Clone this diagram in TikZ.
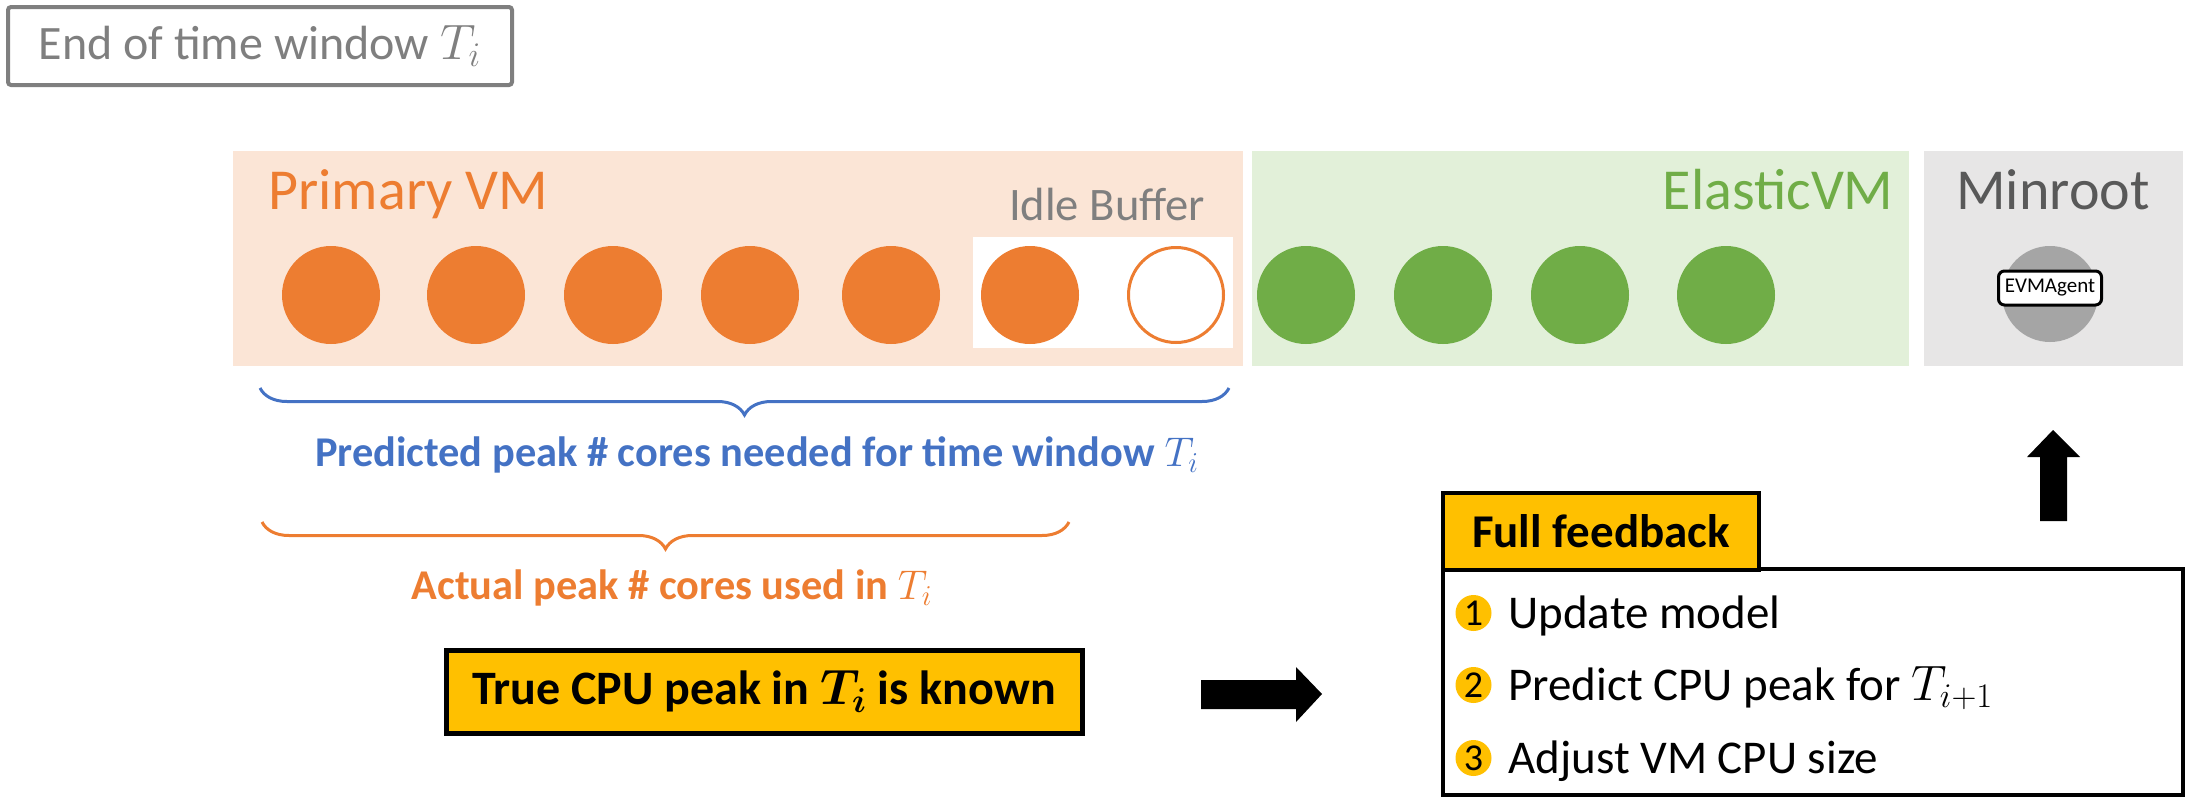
\documentclass[tikz,border=0pt]{standalone}
\usepackage{amsmath}
\usepackage{fontspec}
\setmainfont{Carlito}
\usetikzlibrary{decorations.pathreplacing}
\definecolor{vmorange}{HTML}{ED7D31}
\definecolor{lorange}{HTML}{FBE5D6}
\definecolor{vmgreen}{HTML}{70AD47}
\definecolor{lgreen}{HTML}{E2F0D9}
\definecolor{lgray}{HTML}{E7E6E6}
\definecolor{cgray}{HTML}{A5A5A5}
\definecolor{tgray}{HTML}{7F7F7F}
\definecolor{dgray}{HTML}{595959}
\definecolor{vblue}{HTML}{4472C4}
\definecolor{vyellow}{HTML}{FFC000}
\begin{document}
\begin{tikzpicture}[x=0.5pt,y=-0.5pt,
  core/.style={circle, inner sep=0, minimum size=49pt, fill=vmorange},
  gcore/.style={circle, inner sep=0, minimum size=49pt, fill=vmgreen},
  lbl/.style={inner sep=0, font=\fontsize{29}{33}\selectfont},
  bracelbl/.style={inner sep=0, font=\bfseries\fontsize{21.2}{25}\selectfont},
  num/.style={circle, fill=vyellow, inner sep=0, minimum size=18pt, font=\fontsize{19}{22}\selectfont},
  item/.style={anchor=base west, inner sep=0, font=\fontsize{23.5}{27}\selectfont},
  blockarrow/.style={fill=black}
]
\useasboundingbox (0,0) rectangle (2190,798);

% top label box
\node[draw=tgray, line width=2pt, rounded corners=1.5pt, minimum width=252pt, minimum height=39pt,
  inner sep=0, text=tgray, font=\fontsize{24}{28}\selectfont] (tw) at (260,46) {End of time window $T_i$};

% regions
\node[fill=lorange, inner sep=0, minimum width=505pt, minimum height=107.5pt] (primary) at (738,258.5) {};
\node[fill=lgreen, inner sep=0, minimum width=328.5pt, minimum height=107.5pt] (elastic) at (1580.5,258.5) {};
\node[fill=lgray, inner sep=0, minimum width=129.5pt, minimum height=107.5pt] (minroot) at (2053.5,258.5) {};
\node[fill=white, inner sep=0, minimum width=130pt, minimum height=55.5pt] (idle) at (1103,292.5) {};

% labels
\node[lbl, anchor=base west, text=vmorange] (plbl) at (268,209) {Primary VM};
\node[lbl, anchor=base east, text=vmgreen] (elbl) at (1894,209) {ElasticVM};
\node[lbl, anchor=base, text=dgray] (mlbl) at (2053,209) {Minroot};
\node[inner sep=0, anchor=base, text=tgray, font=\fontsize{23.3}{27}\selectfont] (ilbl) at (1107,220) {Idle Buffer};

% cores
\foreach \x [count=\i] in {331,476,613,750,891,1030}
  \node[core] (c\i) at (\x,295) {};
\node[circle, inner sep=0, minimum size=47.5pt, draw=vmorange, line width=1.5pt, fill=white] (c7) at (1176,295) {};
\foreach \x [count=\i] in {1306,1443,1580,1726}
  \node[gcore] (g\i) at (\x,295) {};

% minroot agent
\node[circle, inner sep=0, minimum size=48pt, fill=cgray] (agentc) at (2050,294) {};
\node[draw=black, fill=white, line width=1.5pt, rounded corners=3pt, inner sep=0,
  minimum width=51.5pt, minimum height=17pt, font=\fontsize{10.5}{12}\selectfont] (agent) at (2050,288) {EVMAgent};

% braces
\coordinate (b1a) at (260,388);
\coordinate (b1b) at (1229,388);
\draw[vblue, line width=1.5pt, decorate, decoration={brace, mirror, amplitude=13.5pt}] (b1a) -- (b1b);
\node[bracelbl, text=vblue] (blbl) at (757,455) {Predicted peak \# cores needed for time window $T_i$};

\coordinate (b2a) at (262,522);
\coordinate (b2b) at (1069,522);
\draw[vmorange, line width=1.5pt, decorate, decoration={brace, mirror, amplitude=13.5pt}] (b2a) -- (b2b);
\node[bracelbl, text=vmorange] (olbl) at (672,588) {Actual peak \# cores used in $T_i$};

% true CPU box
\node[draw=black, fill=vyellow, line width=2.5pt, inner sep=0, minimum width=318pt, minimum height=41.5pt,
  font=\bfseries\fontsize{24}{28}\selectfont] (truecpu) at (764,691.5) {True CPU peak in $\boldsymbol{T_i}$ is known};

% right block arrow
\fill[blockarrow] (1201,680) -- (1296,680) -- (1296,667) -- (1322,694) -- (1296,722) -- (1296,709) -- (1201,709) -- cycle;

% up block arrow
\fill[blockarrow] (2040,521) -- (2040,457) -- (2027,457) -- (2053,430) -- (2080,457) -- (2067,457) -- (2067,521) -- cycle;

% feedback
\node[draw=black, fill=white, line width=2pt, inner sep=0, minimum width=370pt, minimum height=113pt] (fbbox) at (1813,682) {};
\node[draw=black, fill=vyellow, line width=2pt, inner sep=0, minimum width=158pt, minimum height=38.5pt,
  font=\bfseries\fontsize{23.5}{27}\selectfont] (fbtitle) at (1601,531.5) {Full feedback};

\node[num] (n1) at (1473.5,613) {1};
\node[num] (n2) at (1473.5,685) {2};
\node[num] (n3) at (1473.5,758) {3};
\node[item] (i1) at (1508,628) {Update model};
\node[item] (i2) at (1508,700) {Predict CPU peak for $T_{i+1}$};
\node[item] (i3) at (1508,773) {Adjust VM CPU size};
\end{tikzpicture}
\end{document}
